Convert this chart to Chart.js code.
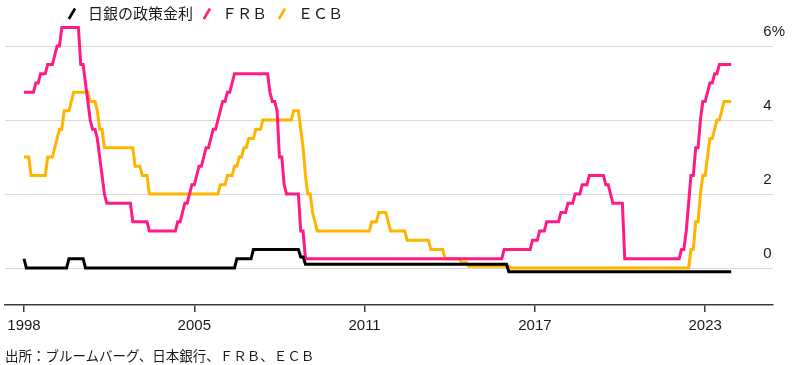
<!DOCTYPE html>
<html lang="ja">
<head>
<meta charset="utf-8">
<script src="https://cdn.jsdelivr.net/npm/chart.js@4.4.0/dist/chart.umd.min.js"></script>
<style>
  html, body { margin: 0; padding: 0; background: #fff; }
  #wrap { position: relative; width: 800px; height: 365px; font-family: "Noto Sans CJK JP", sans-serif; color: #1a1a1a; }
  #chart { position: absolute; left: 0; top: 0; }
  .lg { position: absolute; top: 3px; font-size: 15px; line-height: 20px; white-space: nowrap; }
  .ic { position: absolute; top: 6px; }
  #source { position: absolute; left: 5px; top: 346px; font-size: 13.5px; line-height: 18px; white-space: nowrap; }
</style>
</head>
<body>
<div id="wrap">
  <canvas id="chart" width="800" height="365"></canvas>
  <div id="legend"></div>
  <div id="source">出所：ブルームバーグ、日本銀行、ＦＲＢ、ＥＣＢ</div>
</div>
<script>
// policy rates, listed as (month of change, new rate)
var bojDates = ['1999-01','1999-02','2000-08','2001-03','2006-07','2007-02','2008-10','2008-12','2016-02'];
var bojRates = [0.25, 0, 0.25, 0, 0.25, 0.5, 0.3, 0.1, -0.1];

var frbDates = ['1999-01','1999-06','1999-08','1999-11','2000-02','2000-03','2000-05',
  '2001-01','2001-03','2001-04','2001-05','2001-06','2001-08','2001-09','2001-10','2001-11','2001-12',
  '2002-11','2003-06','2004-06','2004-08','2004-09','2004-11','2004-12',
  '2005-02','2005-03','2005-05','2005-06','2005-08','2005-09','2005-11','2005-12',
  '2006-01','2006-03','2006-05','2006-06','2007-09','2007-10','2007-12',
  '2008-01','2008-03','2008-04','2008-10','2008-12','2015-12','2016-12',
  '2017-03','2017-06','2017-12','2018-03','2018-06','2018-09','2018-12',
  '2019-07','2019-09','2019-10','2020-03','2022-03','2022-05','2022-06','2022-07',
  '2022-09','2022-11','2022-12','2023-02','2023-03','2023-05','2023-07'];
var frbRates = [4.75, 5.0, 5.25, 5.5, 5.75, 6.0, 6.5,
  5.5, 5.0, 4.5, 4.0, 3.75, 3.5, 3.0, 2.5, 2.0, 1.75,
  1.25, 1.0, 1.25, 1.5, 1.75, 2.0, 2.25,
  2.5, 2.75, 3.0, 3.25, 3.5, 3.75, 4.0, 4.25,
  4.5, 4.75, 5.0, 5.25, 4.75, 4.5, 4.25,
  3.0, 2.25, 2.0, 1.0, 0.25, 0.5, 0.75,
  1.0, 1.25, 1.5, 1.75, 2.0, 2.25, 2.5,
  2.25, 2.0, 1.75, 0.25, 0.5, 1.0, 1.75, 2.5,
  3.25, 4.0, 4.5, 4.75, 5.0, 5.25, 5.5];

var ecbDates = ['1999-01','1999-04','1999-11','2000-02','2000-03','2000-04','2000-06','2000-09','2000-10',
  '2001-05','2001-08','2001-09','2001-11','2002-12','2003-03','2003-06',
  '2005-12','2006-03','2006-06','2006-08','2006-10','2006-12','2007-03','2007-06',
  '2008-07','2008-10','2008-11','2008-12','2009-01','2009-03','2009-04','2009-05',
  '2011-04','2011-07','2011-11','2011-12','2012-07','2013-05','2013-11','2014-06','2014-09','2016-03',
  '2022-07','2022-09','2022-11','2022-12','2023-02','2023-03','2023-05','2023-06','2023-08','2023-09'];
var ecbRates = [3.0, 2.5, 3.0, 3.25, 3.5, 3.75, 4.25, 4.5, 4.75,
  4.5, 4.25, 3.75, 3.25, 2.75, 2.5, 2.0,
  2.25, 2.5, 2.75, 3.0, 3.25, 3.5, 3.75, 4.0,
  4.25, 3.75, 3.25, 2.5, 2.0, 1.5, 1.25, 1.0,
  1.25, 1.5, 1.25, 1.0, 0.75, 0.5, 0.25, 0.15, 0.05, 0.0,
  0.5, 1.25, 2.0, 2.5, 3.0, 3.5, 3.75, 4.0, 4.25, 4.5];

var endMonth = '2023-12';

var seriesNames = ['日銀の政策金利', 'ＦＲＢ', 'ＥＣＢ'];
var seriesColors = ['#000000', '#ff1a85', '#ffb400'];

var xTickValues = [1999, 2005, 2011, 2017, 2023];
var xTickLabels = ['1998', '2005', '2011', '2017', '2023'];
var yTickValues = [0, 2, 4, 6];

function toYear(s) {
  var p = s.split('-');
  return Number(p[0]) + (Number(p[1]) - 1) / 12;
}

// monthly series: each change goes from last month's rate to the new one
function buildSteps(dates, rates) {
  var pts = [];
  for (var i = 0; i < dates.length; i++) {
    var t = toYear(dates[i]);
    if (i > 0) pts.push({ x: t - 1 / 12, y: rates[i - 1] });
    pts.push({ x: t, y: rates[i] });
  }
  pts.push({ x: toYear(endMonth), y: rates[rates.length - 1] });
  return pts;
}

var allData = [buildSteps(bojDates, bojRates), buildSteps(frbDates, frbRates), buildSteps(ecbDates, ecbRates)];

// legend (html)
var legendPos = [[67, 88], [202, 222], [277, 298]];
var legend = document.getElementById('legend');
for (var i = 0; i < seriesNames.length; i++) {
  var svg = '<svg class="ic" style="left:' + legendPos[i][0] + 'px" width="10" height="15">' +
    '<line x1="1.8" y1="13" x2="8" y2="2.5" stroke="' + seriesColors[i] + '" stroke-width="2.6"/></svg>';
  legend.insertAdjacentHTML('beforeend', svg +
    '<span class="lg" style="left:' + legendPos[i][1] + 'px">' + seriesNames[i] + '</span>');
}

var datasets = [];
for (var j = 0; j < allData.length; j++) {
  datasets.push({
    label: seriesNames[j],
    data: allData[j],
    borderColor: seriesColors[j],
    backgroundColor: seriesColors[j],
    borderWidth: 3,
    pointRadius: 0,
    fill: false,
    tension: 0
  });
}

var ctx = document.getElementById('chart');
var chart = new Chart(ctx, {
  type: 'line',
  data: { datasets: datasets },
  options: {
    responsive: false,
    animation: false,
    layout: { padding: { top: 9, left: 5, right: 0, bottom: 0 } },
    plugins: {
      legend: { display: false },
      tooltip: { enabled: false }
    },
    scales: {
      x: {
        type: 'linear',
        min: 1998.3305,
        max: 2025.39,
        afterBuildTicks: function(s) { s.ticks = xTickValues.map(function(v) { return { value: v }; }); },
        afterFit: function(s) { s.height = 60; },
        grid: { drawOnChartArea: false, drawTicks: true, tickLength: 7, color: '#3a3a3a', lineWidth: 1.5 },
        border: { display: true, color: '#3a3a3a', width: 1.5 },
        ticks: {
          padding: 5,
          color: '#1a1a1a',
          maxRotation: 0,
          autoSkip: false,
          font: { family: 'Liberation Sans', size: 15 },
          callback: function(v, i) { return xTickLabels[i]; }
        }
      },
      y: {
        position: 'right',
        min: -1,
        max: 7,
        afterBuildTicks: function(s) { s.ticks = yTickValues.map(function(v) { return { value: v }; }); },
        afterFit: function(s) { s.width = 27; s.paddingTop = 0; s.paddingBottom = 0; },
        grid: { color: '#d9d9d9', lineWidth: 1, drawTicks: false },
        border: { display: false },
        ticks: {
          mirror: true,
          crossAlign: 'far',
          padding: 12,
          labelOffset: -14,
          color: '#1a1a1a',
          font: { family: 'Liberation Sans', size: 15 },
          callback: function(v) { return v === 6 ? '6%' : String(v); }
        }
      }
    }
  }
});
</script>
</body>
</html>
